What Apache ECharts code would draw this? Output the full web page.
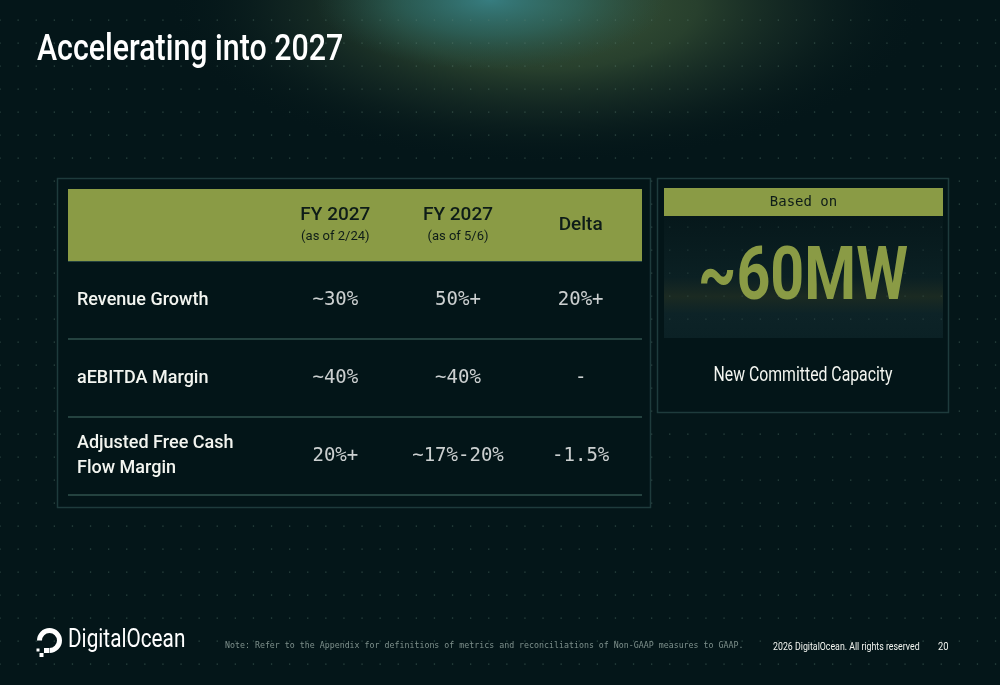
<!DOCTYPE html>
<html>
<head>
<meta charset="utf-8">
<title>Accelerating into 2027</title>
<script src="https://cdn.jsdelivr.net/npm/echarts@6/dist/echarts.min.js"></script>
<style>
  html, body { margin: 0; padding: 0; background: #041619; }
  #main { width: 1000px; height: 685px; }
</style>
</head>
<body>
<div id="main"></div>
<script>
// table data
var rowNames = ['Revenue Growth', 'aEBITDA Margin', 'Adjusted Free Cash\nFlow Margin'];
var colNames = ['FY 2027\n(as of 2/24)', 'FY 2027\n(as of 5/6)', 'Delta'];
var fy27Feb = ['~30%', '~40%', '20%+'];
var fy27May = ['50%+', '~40%', '~17%-20%'];
var delta = ['20%+', '-', '-1.5%'];

// side box
var capacityHeader = 'Based on';
var capacityValue = '~60MW';
var capacityLabel = 'New Committed Capacity';

var SANS = 'Roboto, "Noto Sans", sans-serif';
var MONO = '"DejaVu Sans Mono", "Liberation Mono", monospace';
var GREEN = '#8a9b45';
var WHITE = '#f3f5f0';
var DARK = '#0e1c18';

var chart = echarts.init(document.getElementById('main'));

// one label per table cell
var columns = [fy27Feb, fy27May, delta];
var cells = [];
columns.forEach(function (col, i) {
  col.forEach(function (v, j) {
    cells.push({ name: v, value: [i, j] });
  });
});

// background dot grid
function dots(x0, y0, x1, y1, z, color) {
  var out = [];
  for (var x = 0; x <= 1000; x += 18.1) {
    for (var y = 20; y <= 685; y += 23) {
      if (x < x0 || x > x1 || y < y0 || y > y1) continue;
      out.push({
        type: 'rect', silent: true, z: z,
        shape: { x: x - 0.6, y: y - 0.6, width: 1.3, height: 1.3 },
        style: { fill: color }
      });
    }
  }
  return out;
}

// text, condensed with scaleX since no narrow face is installed
function txt(text, x, y, font, fill, align, sx) {
  return {
    type: 'text', silent: true, z: 5, x: x, y: y, scaleX: sx || 1,
    style: {
      text: text, x: 0, y: 0, font: font, fill: fill,
      align: align || 'left', textAlign: align || 'left',
      verticalAlign: 'middle', textVerticalAlign: 'middle'
    }
  };
}

var graphics = [];
// glow at the top
graphics.push({
  type: 'circle', silent: true, z: -30, scaleY: 0.42, x: 545, y: 5,
  shape: { cx: 0, cy: 0, r: 380 },
  style: { fill: { type: 'radial', x: 0.5, y: 0.5, r: 0.5, colorStops: [
    { offset: 0, color: 'rgba(62,90,60,1)' },
    { offset: 0.4, color: 'rgba(52,78,52,0.75)' },
    { offset: 0.7, color: 'rgba(30,52,42,0.4)' },
    { offset: 1, color: 'rgba(4,22,25,0)' }
  ] } }
});
graphics.push({
  type: 'circle', silent: true, z: -29, scaleY: 0.4, x: 490, y: 0,
  shape: { cx: 0, cy: 0, r: 175 },
  style: { fill: { type: 'radial', x: 0.5, y: 0.5, r: 0.5, colorStops: [
    { offset: 0, color: 'rgba(55,125,128,1)' },
    { offset: 0.5, color: 'rgba(42,105,105,0.6)' },
    { offset: 1, color: 'rgba(30,80,80,0)' }
  ] } }
});
graphics = graphics.concat(dots(0, 0, 1000, 685, -20, 'rgba(95,130,118,0.45)'));

// panels
graphics.push({
  type: 'rect', silent: true, z: -10,
  shape: { x: 57.5, y: 178.5, width: 593, height: 329 },
  style: { fill: '#031518', stroke: '#1e3b3c', lineWidth: 1.5 }
});
graphics.push({
  type: 'rect', silent: true, z: -10,
  shape: { x: 657.5, y: 178.5, width: 291, height: 234 },
  style: { fill: '#031518', stroke: '#1e3b3c', lineWidth: 1.5 }
});
// header band of the table
graphics.push({
  type: 'rect', silent: true, z: 1,
  shape: { x: 68, y: 189, width: 574, height: 72 },
  style: { fill: GREEN }
});
// side box
graphics.push({
  type: 'rect', silent: true, z: 1,
  shape: { x: 664, y: 188, width: 279, height: 28 },
  style: { fill: GREEN }
});
graphics.push({
  type: 'rect', silent: true, z: 1,
  shape: { x: 664, y: 216, width: 279, height: 122 },
  style: { fill: { type: 'linear', x: 0, y: 0, x2: 0, y2: 1, colorStops: [
    { offset: 0, color: '#06181b' },
    { offset: 0.5, color: '#0b2023' },
    { offset: 0.66, color: '#1b2a22' },
    { offset: 0.8, color: '#0d2327' },
    { offset: 1, color: '#0b2125' }
  ] } }
});
graphics = graphics.concat(dots(664, 216, 943, 338, 2, 'rgba(95,130,118,0.3)'));
graphics.push(txt(capacityHeader, 803.5, 202, '14px ' + MONO, DARK, 'center'));
graphics.push(txt(capacityValue, 803, 280, 'bold 74px ' + SANS, GREEN, 'center', 0.8));
graphics.push(txt(capacityLabel, 803, 376, '20px ' + SANS, WHITE, 'center', 0.79));

// title
graphics.push(txt('Accelerating into 2027', 37, 51, '500 37px ' + SANS, '#ffffff', 'left', 0.82));

// footer: logo
graphics.push({
  type: 'arc', silent: true, z: 5,
  shape: { cx: 49.5, cy: 640.5, r: 10, startAngle: Math.PI, endAngle: Math.PI * 2.5 },
  style: { stroke: '#ffffff', lineWidth: 5, fill: null }
});
[[44, 648, 5, 5], [39.5, 653, 4, 4], [36.5, 648.5, 3, 3]].forEach(function (r) {
  graphics.push({
    type: 'rect', silent: true, z: 5,
    shape: { x: r[0], y: r[1], width: r[2], height: r[3] },
    style: { fill: '#ffffff' }
  });
});
graphics.push(txt('DigitalOcean', 68, 641, '25px ' + SANS, '#ffffff', 'left', 0.83));
graphics.push(txt('Note: Refer to the Appendix for definitions of metrics and reconciliations of Non-GAAP measures to GAAP.',
  225, 646, '9px ' + MONO, '#7e908c', 'left', 0.92));
graphics.push(txt('2026 DigitalOcean. All rights reserved', 773, 647, '11px ' + SANS, WHITE, 'left', 0.8));
graphics.push(txt('20', 938, 647, '11px ' + SANS, WHITE, 'left', 0.85));

var option = {
  backgroundColor: '#041619',
  animation: false,
  grid: [
    { left: 68, top: 261, width: 574, height: 234 },
    { left: 274, top: 261, width: 368, height: 234 }
  ],
  xAxis: [
    { gridIndex: 0, type: 'value', min: 0, max: 1, show: false },
    {
      gridIndex: 1, type: 'category', data: colNames, position: 'top', z: 6,
      axisLine: { show: false }, axisTick: { show: false },
      axisLabel: {
        margin: 36, verticalAlign: 'middle',
        formatter: function (v) {
          var p = v.split('\n');
          return p.length > 1 ? '{a|' + p[0] + '}\n{b|' + p[1] + '}' : '{a|' + p[0] + '}';
        },
        rich: {
          a: { fontFamily: SANS, fontSize: 19, fontWeight: 500, color: DARK, lineHeight: 24 },
          b: { fontFamily: SANS, fontSize: 13, color: DARK, lineHeight: 20 }
        }
      }
    }
  ],
  yAxis: [
    {
      gridIndex: 0, type: 'category', data: rowNames, inverse: true,
      axisLine: { show: false }, axisTick: { show: false },
      axisLabel: {
        inside: true, margin: 9, color: WHITE,
        fontFamily: SANS, fontSize: 18, fontWeight: 500, lineHeight: 25
      },
      splitLine: { show: true, lineStyle: { color: '#24423f', width: 2 } }
    },
    {
      gridIndex: 1, type: 'category', data: rowNames, inverse: true, show: false
    }
  ],
  series: [{
    type: 'scatter', xAxisIndex: 1, yAxisIndex: 1,
    symbolSize: 1, itemStyle: { color: 'rgba(0,0,0,0)' },
    data: cells,
    label: {
      show: true, position: 'inside', formatter: '{b}',
      color: '#ffffff', fontFamily: MONO, fontSize: 19
    }
  }],
  graphic: { elements: graphics }
};

chart.setOption(option);
</script>
</body>
</html>
